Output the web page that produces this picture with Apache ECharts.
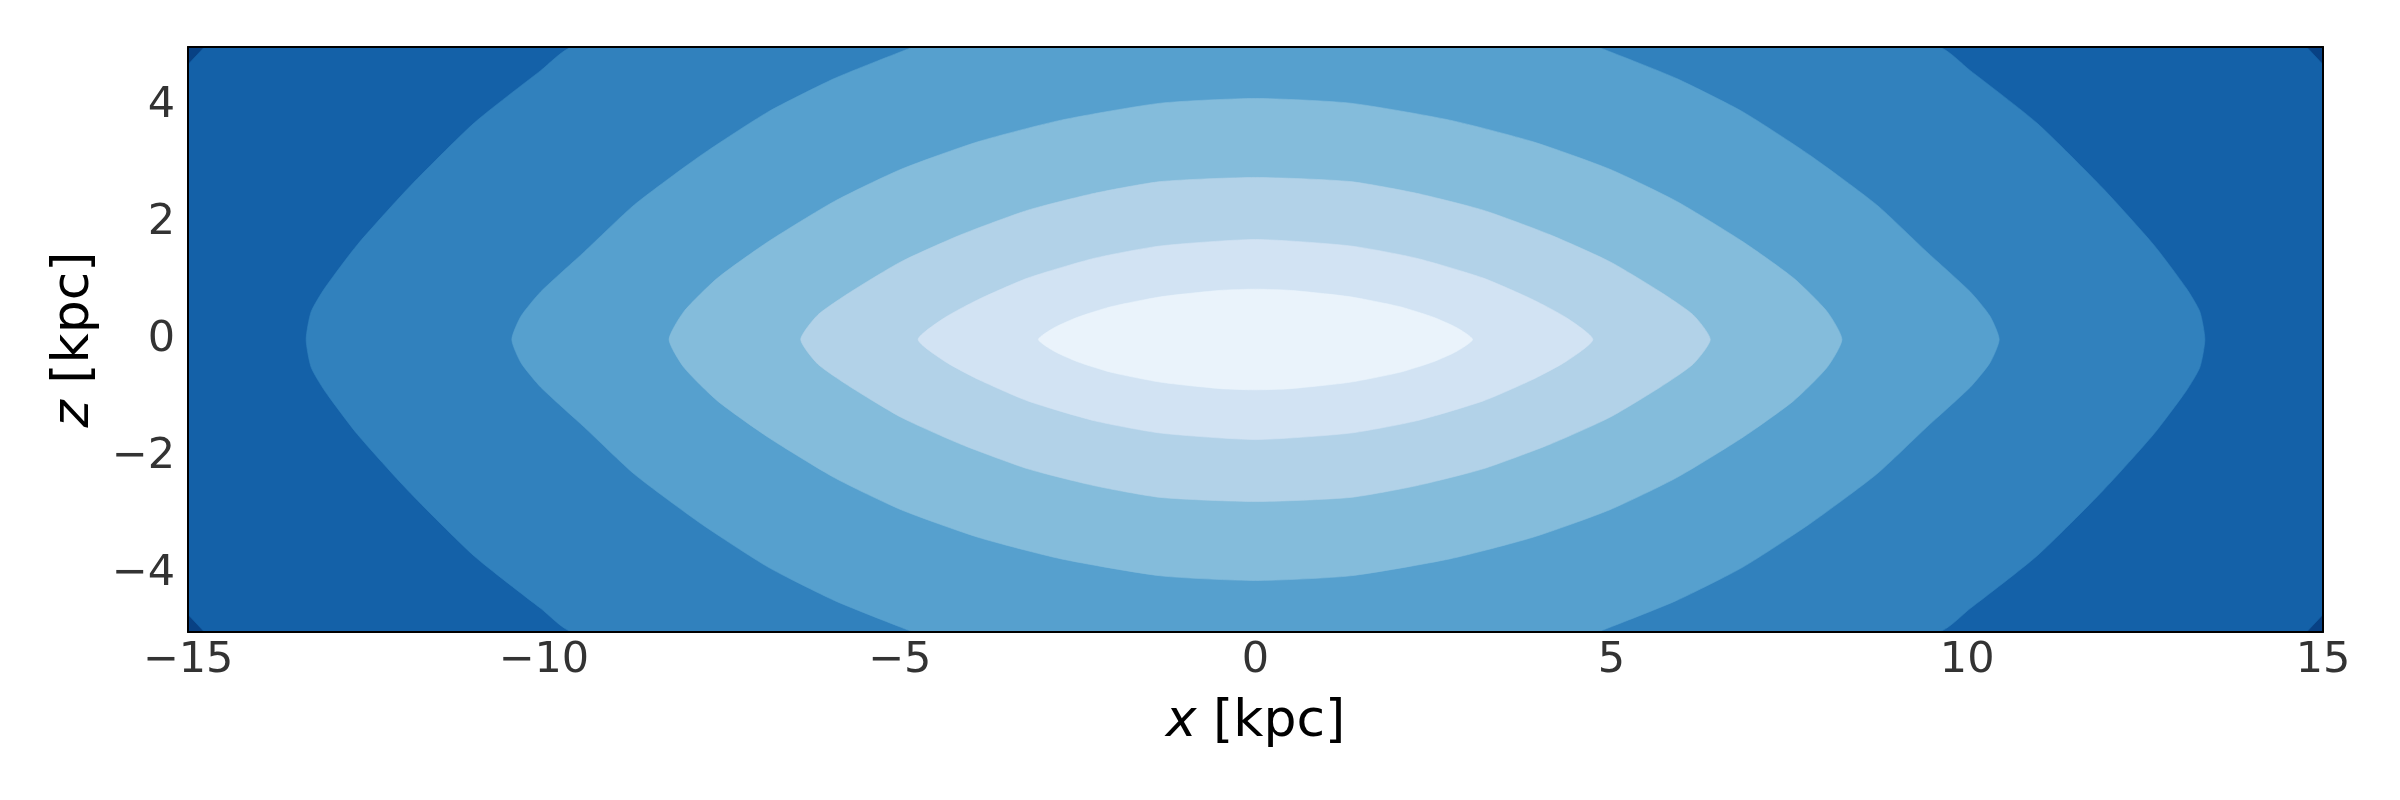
<!DOCTYPE html>
<html><head><meta charset="utf-8">
<script src="https://cdn.jsdelivr.net/npm/echarts@6/dist/echarts.min.js"></script>
<style>html,body{margin:0;padding:0;background:#fff}#c{width:2400px;height:800px}</style>
</head><body><div id="c"></div>
<script>
// axis ranges and ticks (kpc)
const xRange = [-15, 15];
const zRange = [-5, 5];
const xTicks = [-15, -10, -5, 0, 5, 10, 15];
const zTicks = [-4, -2, 0, 2, 4];

// filled-contour boundaries, upper-right quadrant,
// [x, z] in kpc, from the top of each curve down to its tip (figure is mirror-symmetric)
const contour1 = [[0,0.86],[0.49,0.84],[1.33,0.73],[2.03,0.56],[2.50,0.38],[2.83,0.20],[3.05,0]];
const contour2 = [[0,1.71],[1.33,1.60],[2.26,1.39],[3.20,1.05],[3.90,0.68],[4.37,0.37],[4.74,0]];
const contour3 = [[0,2.77],[1.33,2.70],[2.26,2.50],[3.20,2.21],[4.14,1.79],[4.98,1.33],[5.68,0.82],[6.15,0.42],[6.39,0]];
const contour4 = [[0,4.12],[1.33,4.04],[2.73,3.75],[3.90,3.38],[4.98,2.91],[5.92,2.36],[6.85,1.67],[7.56,1.05],[8.03,0.48],[8.24,0]];
const contour5 = [[4.78,5],[4.98,4.92],[5.92,4.46],[6.85,3.89],[7.79,3.15],[8.73,2.30],[9.43,1.50],[10.04,0.82],[10.32,0.40],[10.45,0]];
const contour6 = [[9.59,5],[10.04,4.60],[10.98,3.70],[11.91,2.58],[12.62,1.62],[13.08,0.875],[13.27,0.475],[13.34,0]];
const contour7 = [[14.77,5],[15,4.70]];

// band colours (outermost first), matplotlib "Blues"
const bandColors = ['#084184','#1461a8','#3181bd','#56a0ce','#84bcdb','#b2d2e8','#d2e3f3','#eaf3fb'];

const FONT = 'DejaVu Sans';

function mirrorLoop(q) {
  const out = [];
  const push = p => {
    const l = out[out.length - 1];
    if (!l || l[0] !== p[0] || l[1] !== p[1]) out.push(p);
  };
  q.forEach(p => push([p[0], p[1]]));
  q.slice().reverse().forEach(p => push([p[0], -p[1]]));
  q.forEach(p => push([-p[0], -p[1]]));
  q.slice().reverse().forEach(p => push([-p[0], p[1]]));
  const f = out[0], l = out[out.length - 1];
  if (f[0] === l[0] && f[1] === l[1]) out.pop();
  return out;
}

const contours = [contour7, contour6, contour5, contour4, contour3, contour2, contour1];

const series = contours.map((q, i) => ({
  type: 'custom',
  coordinateSystem: 'cartesian2d',
  clip: true,
  silent: true,
  z: 2 + i,
  data: [[0, 0]],
  renderItem: (params, api) => {
    const pts = mirrorLoop(q).map(p => api.coord(p));
    return {
      type: 'polygon',
      shape: { points: pts, smooth: i === 0 ? 0 : 0.2 },
      style: { fill: bandColors[i + 1], stroke: bandColors[i + 1], lineWidth: 0.6, lineJoin: 'round' }
    };
  }
}));

const minus = v => String(v).replace('-', '\u2212');
const frameLine = { show: true, onZero: false, lineStyle: { color: '#000', width: 2 } };
const titleStyle = { fontSize: 52, color: '#000', fontFamily: FONT,
  rich: { i: { fontStyle: 'italic', fontSize: 52, color: '#000', fontFamily: FONT } } };

const chart = echarts.init(document.getElementById('c'), null, { renderer: 'canvas' });
chart.setOption({
  animation: false,
  backgroundColor: '#fff',
  grid: { left: 188, right: 77, top: 47, bottom: 168, show: true, backgroundColor: bandColors[0], borderWidth: 0 },
  xAxis: [{
    type: 'value', min: xRange[0], max: xRange[1], interval: 5, position: 'bottom', z: 20,
    axisLine: frameLine, axisTick: { show: false }, splitLine: { show: false },
    axisLabel: { fontSize: 43, color: '#333', margin: 7, fontFamily: FONT,
      formatter: v => xTicks.includes(v) ? minus(v) : '' },
    name: '{i|x} [kpc]', nameLocation: 'middle', nameGap: 64, nameTextStyle: titleStyle
  }, {
    type: 'value', min: xRange[0], max: xRange[1], interval: 5, position: 'top', z: 20,
    axisLine: frameLine, axisTick: { show: false }, splitLine: { show: false }, axisLabel: { show: false }
  }],
  yAxis: [{
    type: 'value', min: zRange[0], max: zRange[1], interval: 1, position: 'left', z: 20,
    axisLine: frameLine, axisTick: { show: false }, splitLine: { show: false },
    axisLabel: { fontSize: 43, color: '#333', margin: 13, fontFamily: FONT,
      formatter: v => zTicks.includes(v) ? minus(v) : '' },
    name: '{i|z} [kpc]', nameLocation: 'middle', nameGap: 84, nameTextStyle: titleStyle
  }, {
    type: 'value', min: zRange[0], max: zRange[1], interval: 1, position: 'right', z: 20,
    axisLine: frameLine, axisTick: { show: false }, splitLine: { show: false }, axisLabel: { show: false }
  }],
  series: series
});
</script>
</body></html>
